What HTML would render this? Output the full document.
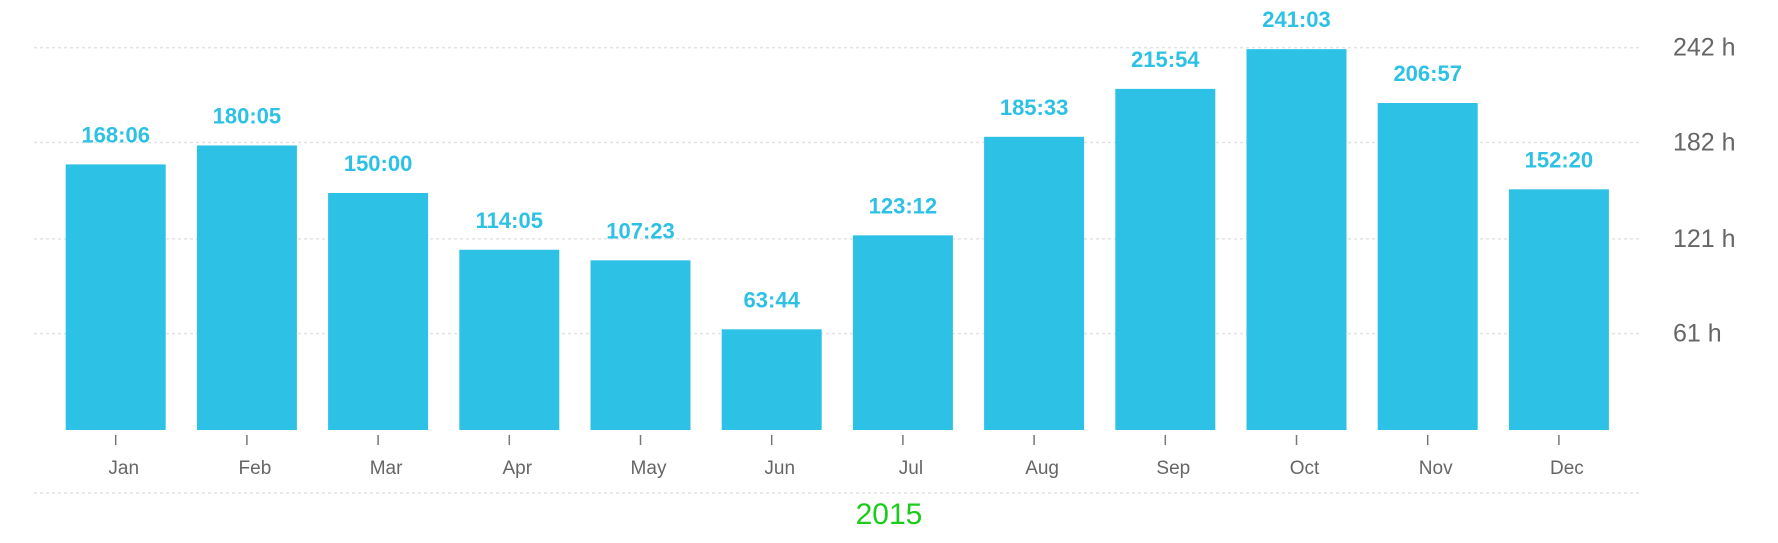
<!DOCTYPE html>
<html><head><meta charset="utf-8"><style>
html,body{margin:0;padding:0;background:#fff;}
svg{display:block;font-family:"Liberation Sans","DejaVu Sans",sans-serif;}
</style></head><body>
<svg id="chart" width="1778" height="543" viewBox="0 0 1778 543"></svg>
<script>
const months = ["Jan","Feb","Mar","Apr","May","Jun","Jul","Aug","Sep","Oct","Nov","Dec"];
const hours = [168.1,180.08,150,114.08,107.38,63.73,123.2,185.55,215.9,241.05,206.95,152.33];
const valueLabels = ["168:06","180:05","150:00","114:05","107:23","63:44","123:12","185:33","215:54","241:03","206:57","152:20"];
const yTicks = [61,121,182,242];
const yTickLabels = ["61 h","121 h","182 h","242 h"];
const yearLabel = "2015";

const NS="http://www.w3.org/2000/svg";
const svg=document.getElementById('chart');
const base=430, pxPerH=1.58;
const y=v=>base-v*pxPerH;
const xc=i=>115.7+i*131.2;
const barW=100;
function mk(t,a,txt){const e=document.createElementNS(NS,t);for(const k in a)e.setAttribute(k,a[k]);if(txt!==undefined)e.textContent=txt;svg.appendChild(e);return e;}

yTicks.forEach((t,i)=>{
  const g=mk('line',{x1:34,x2:1641,y1:y(t),y2:y(t),stroke:'#e3e3e3','stroke-width':1.5,'stroke-dasharray':'3,3'});
  
  
  const l=mk('text',{x:1673,y:y(t)+8,'font-size':25,fill:'#666'},yTickLabels[i]);
  
  
});
const bl=mk('line',{x1:34,x2:1641,y1:493,y2:493,stroke:'#e3e3e3','stroke-width':1.5,'stroke-dasharray':'3,3'});



months.forEach((m,i)=>{
  const r=mk('rect',{x:xc(i)-barW/2,y:y(hours[i]),width:barW,height:base-y(hours[i]),fill:'#2dc1e6'});
  
  
  const v=mk('text',{x:xc(i),y:y(hours[i])-22,'text-anchor':'middle','font-size':22,'font-weight':'bold',fill:'#2dc1e6'},valueLabels[i]);
  
  
  const tk=mk('line',{x1:xc(i),x2:xc(i),y1:435,y2:445,stroke:'#777','stroke-width':1.5});
  
  
  const ml=mk('text',{x:xc(i)+8,y:474,'text-anchor':'middle','font-size':19,fill:'#666'},m);
  
  
});
const yr=mk('text',{x:889,y:524,'text-anchor':'middle','font-size':30,fill:'#1ccc1c'},yearLabel);


</script>
</body></html>
